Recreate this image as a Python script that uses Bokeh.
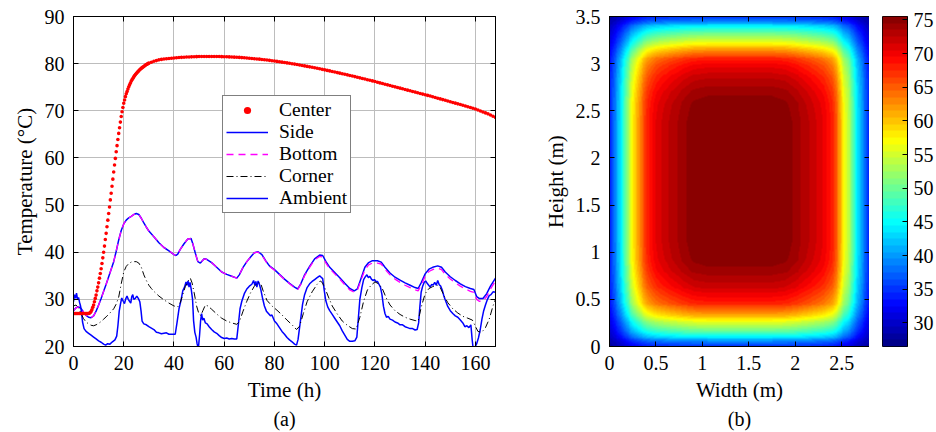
import numpy as np
from bokeh.plotting import figure
from bokeh.models import (LinearAxis, FixedTicker, Legend, LegendItem,
                          LinearColorMapper, Title, Range1d, CustomLabelingPolicy)
from bokeh.layouts import row
from bokeh.embed import file_html
from bokeh.resources import INLINE

FONT = "'Liberation Serif', 'Times New Roman', serif"

# ---------------- (a) temperature histories ----------------
time_ticks = [0, 20, 40, 60, 80, 100, 120, 140, 160]
temp_ticks = [20, 30, 40, 50, 60, 70, 80, 90]

# centre of the block: 20-min samples for the first 30 h, hourly afterwards
center_t = np.r_[np.arange(90) / 3.0, np.arange(30, 169)]
center_T = [
    27.0, 27.0, 27.0, 27.0, 27.0, 27.0, 27.0, 27.0, 27.0,
    27.0, 27.0, 27.0, 27.0, 27.0, 27.0, 27.0, 27.0, 27.0,
    27.0, 27.05, 27.2, 27.4, 27.8, 28.3, 28.8, 29.5, 30.2,
    30.9, 31.8, 32.6, 33.5, 34.5, 35.5, 36.5, 37.6, 38.8,
    40.0, 41.3, 42.7, 44.0, 45.4, 46.8, 48.2, 49.6, 51.1,
    52.5, 54.0, 55.5, 57.0, 58.5, 59.9, 61.3, 62.6, 63.9,
    65.2, 66.4, 67.6, 68.8, 69.8, 70.7, 71.6, 72.3, 73.0,
    73.6, 74.1, 74.6, 75.1, 75.5, 75.9, 76.3, 76.6, 76.9,
    77.2, 77.45, 77.7, 77.9, 78.1, 78.3, 78.5, 78.7, 78.85,
    79.0, 79.15, 79.3, 79.4, 79.55, 79.7, 79.8, 79.9, 80.0,
    80.1, 80.3, 80.5, 80.65, 80.8, 80.9, 81.0, 81.05, 81.1, 81.15,
    81.2, 81.25, 81.3, 81.33, 81.36, 81.4, 81.42, 81.44, 81.46, 81.48,
    81.5, 81.5, 81.5, 81.52, 81.52, 81.52, 81.52, 81.5, 81.5, 81.48,
    81.47, 81.45, 81.43, 81.41, 81.38, 81.35, 81.32, 81.28, 81.24, 81.2,
    81.15, 81.1, 81.05, 81.0, 80.95, 80.89, 80.83, 80.77, 80.7, 80.63,
    80.56, 80.48, 80.4, 80.32, 80.24, 80.16, 80.08, 79.99, 79.9, 79.81,
    79.72, 79.62, 79.52, 79.42, 79.32, 79.22, 79.12, 79.01, 78.9, 78.79,
    78.68, 78.57, 78.46, 78.34, 78.22, 78.1, 77.98, 77.86, 77.74, 77.62,
    77.5, 77.38, 77.25, 77.12, 76.99, 76.86, 76.73, 76.6, 76.47, 76.34,
    76.2, 76.06, 75.92, 75.78, 75.64, 75.5, 75.36, 75.22, 75.08, 74.94,
    74.8, 74.66, 74.52, 74.38, 74.24, 74.1, 73.96, 73.82, 73.68, 73.54,
    73.4, 73.26, 73.12, 72.97, 72.82, 72.67, 72.52, 72.37, 72.22, 72.07,
    71.92, 71.77, 71.62, 71.47, 71.32, 71.17, 71.02, 70.86, 70.7, 70.54,
    70.38, 70.15, 69.95, 69.75, 69.55, 69.35, 69.1, 68.85, 68.6,
]

side_t = [0, 1, 2, 3, 4, 5, 6, 7, 8, 9, 10, 11, 12, 13, 14, 15, 16, 17, 18, 19,
          20, 21, 22, 23, 24, 25, 26, 27, 28, 29, 30, 32, 34, 36, 38, 40, 40.8,
          41.5, 42.5, 44, 45.5, 46.8, 47.5, 48.5, 49.5, 50.5, 52, 53, 55, 57, 59,
          61, 63, 65, 66, 67.5, 69, 70.5, 72, 73.5, 75, 76.5, 78, 80, 82, 84, 86,
          88, 89.3, 90.5, 92, 94, 96, 98, 99.2, 100.5, 102, 104, 106, 108, 110,
          111.8, 113, 114.5, 116, 117.5, 119, 121, 122.5, 124, 126, 128, 130,
          132, 134, 136, 137.2, 138.5, 140, 141.5, 143, 145, 146.5, 148, 150,
          152, 154, 156, 158, 159.4, 160.5, 161.5, 163, 164.5, 166, 168]
side_T = [27.6, 28.2, 28.4, 28.1, 27.3, 26.6, 26.2, 26.1, 26.5, 27.5, 28.8, 30.2,
          31.7, 33.2, 34.8, 36.4, 38.0, 40.2, 42.6, 44.6, 46.0, 46.8, 47.3, 47.6,
          48.0, 48.2, 48.0, 47.2, 46.2, 45.3, 44.5, 43.3, 42.0, 41.0, 40.3, 39.5,
          39.3, 39.6, 40.6, 41.8, 42.8, 42.9, 41.8, 39.8, 38.0, 37.7, 38.6, 38.5,
          37.8, 36.8, 35.8, 35.3, 34.9, 34.5, 35.2, 36.8, 38.0, 39.0, 39.9, 40.1,
          39.5, 38.2, 37.1, 36.3, 35.3, 34.3, 33.4, 32.6, 32.2, 33.3, 35.2, 37.0,
          38.6, 39.4, 39.3, 38.0, 36.8, 35.7, 34.6, 33.4, 32.3, 31.8, 32.2, 34.5,
          36.8, 37.8, 38.2, 38.2, 37.9, 36.8, 35.6, 34.7, 34.1, 33.5, 33.0, 32.5,
          32.3, 33.6, 35.4, 36.4, 36.8, 37.1, 36.8, 35.8, 34.8, 34.0, 33.3, 32.7,
          32.3, 32.1, 30.6, 30.2, 30.2, 31.2, 32.8, 34.5]

bottom_t = side_t
bottom_T = [27.6, 28.2, 28.4, 28.1, 27.3, 26.6, 26.2, 26.1, 26.5, 27.5, 28.8, 30.2,
            31.7, 33.2, 34.8, 36.4, 38.0, 40.2, 42.6, 44.6, 46.0, 46.8, 47.3, 47.6,
            48.0, 48.2, 48.0, 47.2, 46.2, 45.3, 44.5, 43.3, 42.0, 41.0, 40.3, 39.5,
            39.3, 39.6, 40.6, 41.8, 42.8, 42.9, 41.8, 39.8, 38.0, 37.7, 38.6, 38.5,
            37.8, 36.8, 35.8, 35.3, 34.9, 34.5, 35.2, 36.8, 38.0, 39.0, 39.9, 40.0,
            39.4, 38.1, 37.0, 36.2, 35.2, 34.2, 33.3, 32.5, 32.1, 33.2, 35.0, 36.8,
            38.4, 39.1, 39.0, 37.7, 36.5, 35.4, 34.3, 33.1, 32.0, 31.5, 31.9, 34.1,
            36.3, 37.3, 37.7, 37.7, 37.5, 36.4, 35.2, 34.3, 33.6, 33.0, 32.5, 32.0,
            31.8, 33.1, 34.9, 35.9, 36.3, 36.6, 36.3, 35.3, 34.3, 33.5, 32.8, 32.2,
            31.7, 31.5, 30.0, 29.6, 29.6, 30.6, 32.2, 33.9]

corner_t = [0, 1, 2, 3, 4, 5, 6, 7, 8, 9, 10, 11, 12, 13, 14, 15, 16, 17, 18, 19,
            20, 21, 22, 23, 24, 25, 26, 27, 28, 29, 30, 31, 32, 34, 36, 38, 40,
            41.5, 42.5, 43.5, 44.5, 45.5, 46.5, 47.2, 48, 49, 50, 50.7, 51.5, 52.5,
            53.5, 55, 57, 59, 61, 63, 65, 66, 67.5, 69, 70.5, 72, 73.5, 74.5, 75.5,
            77, 79, 81, 83, 85, 87, 88.8, 90, 91.5, 93, 95, 97, 98.2, 99, 100,
            101.5, 103, 105, 107, 109, 111, 112.5, 114, 115.5, 117, 118.5, 120,
            121.5, 123, 124.5, 126, 128, 130, 132, 134, 136, 137.2, 138.5, 140,
            141.5, 143, 144.8, 146, 147.5, 149, 151, 153, 155, 157, 158.8, 159.8,
            161, 162.5, 164, 165.5, 167, 168]
corner_T = [28.6, 28.8, 28.2, 27.0, 25.9, 25.2, 24.8, 24.5, 24.4, 24.6, 24.9, 25.3,
            25.8, 26.3, 26.8, 27.4, 28.0, 29.0, 30.5, 33.3, 35.8, 37.0, 37.6, 37.9,
            38.0, 38.0, 37.7, 36.8, 35.2, 34.0, 33.0, 32.3, 31.7, 30.7, 29.9, 29.2,
            28.6, 28.4, 29.3, 31.0, 32.7, 33.8, 34.5, 33.5, 31.5, 28.6, 26.8, 26.6,
            27.6, 28.8, 28.6, 27.9, 26.9, 26.0, 25.4, 25.0, 24.7, 25.2, 27.5, 29.6,
            31.4, 32.8, 33.6, 33.4, 31.8, 29.8, 28.6, 27.7, 26.7, 25.6, 24.6, 23.6,
            24.3, 27.0, 29.5, 31.6, 33.2, 33.9, 33.6, 32.5, 30.5, 28.6, 26.9, 25.4,
            24.5, 23.8, 23.7, 26.2, 29.6, 32.0, 33.0, 33.7, 33.3, 32.2, 30.3, 28.8,
            27.6, 26.8, 26.2, 25.8, 25.5, 25.4, 28.5, 31.2, 32.3, 32.7, 33.0, 32.5,
            30.8, 29.3, 28.0, 27.1, 26.4, 26.0, 25.6, 24.5, 23.2, 23.0, 24.0, 25.8,
            28.6, 30.0]

ambient_t = [0, 0.4, 0.8, 1.2, 1.6, 2.0, 2.4, 2.8, 3.2, 3.6, 4.2, 5, 6, 7, 8, 9, 10,
             11, 12, 12.8, 13.6, 14.5, 15.5, 16.5, 17.2, 17.7, 18.2, 18.7, 19.2, 19.8,
             20.3, 20.8, 21.3, 21.8, 22.3, 22.8, 23.2, 23.6, 24.0, 24.6, 25.2, 25.8,
             26.4, 26.9, 27.3, 28, 29, 30, 31, 32, 33, 34, 35, 36, 37, 38, 39, 40.5,
             41.2, 42.0, 42.8, 43.5, 44.2, 44.8, 45.2, 45.6, 46.0, 46.4, 46.9, 47.4,
             47.8, 48.3, 48.8, 49.2, 49.7, 50.2, 50.6, 51.0, 51.4, 51.9, 52.5, 53.2,
             54, 55, 56, 57, 58, 59, 60, 61, 62, 63, 64, 65, 65.6, 66.3, 67, 68, 69,
             70, 71, 71.7, 72.2, 72.6, 73.0, 73.5, 74.0, 74.6, 75.2, 76.0, 76.8, 77.6,
             78.4, 79, 80, 81, 82, 83, 84, 85, 86, 87, 88, 88.8, 89.4, 90.0, 90.6,
             91.2, 92, 93, 94, 95, 96, 97, 98, 98.6, 99.2, 99.8, 100.4, 101.2, 102,
             103, 104, 105, 106, 107, 108, 109, 110, 111, 112, 112.8, 113.4, 114.0,
             114.8, 115.5, 116.2, 116.8, 117.4, 118.0, 118.6, 119.2, 119.8, 120.4,
             121.0, 121.6, 122.2, 122.8, 123.4, 124.0, 124.6, 125.3, 126, 127, 128,
             129, 130, 131, 132, 133, 134, 135, 136, 136.8, 137.4, 137.9, 138.4, 139.0,
             139.6, 140.2, 140.8, 141.4, 142.0, 142.6, 143.2, 143.8, 144.4, 145.0,
             145.6, 146.2, 146.8, 147.5, 148.2, 149, 150, 151, 152, 153, 154, 155,
             155.8, 156.6, 157.4, 158.2, 158.7, 159.1, 159.8, 160.5, 161.2, 161.9,
             162.6, 163.3, 164.0, 164.8, 165.5, 166.2, 167, 168]
ambient_T = [29.5, 31.0, 30.2, 31.3, 30.0, 30.4, 29.4, 28.6, 27.2, 25.2, 23.8, 23.2,
             22.8, 22.4, 22.0, 21.6, 21.2, 20.9, 20.5, 20.3, 20.6, 20.5, 21.0, 21.4,
             22.2, 24.5, 27.5, 29.0, 30.3, 29.6, 29.1, 30.1, 30.7, 30.0, 29.6, 29.2,
             30.6, 31.0, 30.0, 30.2, 30.7, 30.2, 29.5, 27.5, 25.4, 24.8, 24.6, 24.2,
             23.9, 23.6, 23.0, 22.9, 22.7, 22.8, 22.9, 22.6, 22.6, 22.6, 25.0, 28.0,
             29.8, 31.8, 32.6, 33.7, 33.0, 33.9, 32.6, 33.6, 32.0, 30.0, 25.5, 23.0,
             22.0, 20.6, 19.5, 22.5, 25.5, 27.0, 25.6, 26.0, 25.0, 24.8, 24.2, 23.6,
             23.1, 22.8, 22.3, 21.9, 21.7, 21.8, 21.6, 21.7, 21.6, 21.6, 24.5, 28.0,
             29.6, 31.2, 32.2, 32.8, 33.2, 34.0, 33.0, 33.8, 32.6, 33.9, 33.2, 32.0,
             30.4, 28.6, 27.5, 27.0, 26.5, 26.7, 25.4, 24.8, 24.0, 23.2, 22.6, 21.9,
             21.4, 21.0, 20.5, 20.3, 21.5, 24.0, 26.5, 29.0, 31.0, 32.5, 33.3, 33.8,
             34.2, 34.6, 35.0, 34.7, 34.4, 32.0, 29.8, 28.4, 27.6, 26.8, 26.0, 25.2,
             24.4, 23.3, 22.4, 21.5, 21.1, 21.1, 21.2, 22.0, 26.0, 30.0, 32.5, 34.2,
             34.8, 35.2, 34.6, 34.9, 34.3, 34.0, 34.2, 33.8, 33.8, 33.2, 32.6, 31.0,
             28.5, 27.0, 26.2, 26.4, 25.8, 25.6, 25.2, 25.0, 24.6, 24.6, 24.2, 24.0,
             23.8, 23.8, 23.5, 23.6, 25.0, 28.5, 31.5, 32.8, 33.6, 33.9, 33.4, 33.0,
             32.6, 33.2, 33.0, 33.6, 33.0, 34.0, 33.1, 32.8, 32.0, 30.6, 29.6, 28.5,
             27.6, 27.0, 26.5, 26.2, 25.6, 25.0, 24.2, 24.4, 24.0, 24.6, 21.5, 19.6,
             19.8, 20.6, 21.8, 23.5, 25.8, 27.6, 28.8, 30.0, 30.8, 31.0, 31.6, 31.5]

# ---------------- (b) cross-section temperature field ----------------
# temperature along the mid-height line (x in m) and along the mid-width line (y in m)
width_pos = [0.0, 0.03, 0.065, 0.12, 0.17, 0.22, 0.245, 0.30, 0.35, 0.41, 0.48, 0.57,
             0.67, 0.78, 0.90, 1.05, 1.40, 1.75, 1.90, 2.02, 2.12, 2.22, 2.32, 2.40,
             2.45, 2.49, 2.52, 2.565, 2.62, 2.67, 2.73, 2.77, 2.80]
width_temp = [34.0, 36.5, 39.3, 43.7, 49.5, 54.4, 57.1, 61.2, 64.6, 68.0, 70.1, 71.6,
              72.8, 74.0, 75.1, 75.5, 75.5, 75.5, 75.1, 74.0, 72.8, 71.6, 70.1, 68.0,
              64.6, 61.2, 57.1, 54.4, 49.5, 43.7, 39.3, 36.5, 34.0]
height_pos = [0.0, 0.04, 0.10, 0.16, 0.23, 0.28, 0.33, 0.39, 0.46, 0.55, 0.62, 0.70,
              0.79, 0.92, 1.10, 1.75, 2.40, 2.58, 2.72, 2.82, 2.90, 2.98, 3.05, 3.11,
              3.16, 3.21, 3.26, 3.33, 3.40, 3.46, 3.50]
height_temp = [35.0, 38.0, 44.0, 49.5, 54.4, 57.1, 61.2, 64.6, 68.0, 70.1, 71.6, 72.8,
               74.0, 75.1, 75.5, 75.5, 75.5, 75.1, 74.0, 72.8, 71.6, 70.1, 68.0, 64.6,
               61.2, 57.1, 54.4, 49.5, 44.0, 38.0, 35.0]
corner_temp = 26.6
peak_temp = 75.5
section_width = 2.8
section_height = 3.5

width_ticks = [0, 0.5, 1, 1.5, 2, 2.5]
width_labels = ["0", "0.5", "1", "1.5", "2", "2.5"]
height_ticks = [0, 0.5, 1, 1.5, 2, 2.5, 3, 3.5]
height_labels = ["0", "0.5", "1", "1.5", "2", "2.5", "3", "3.5"]
cbar_ticks = [30, 35, 40, 45, 50, 55, 60, 65, 70, 75]
cbar_low, cbar_high = 26.5, 75.5
n_levels = 49


def jet(n):
    cols = []
    for i in range(n):
        v = (i + 0.5) / n
        r = min(max(1.5 - abs(4 * v - 3), 0), 1)
        g = min(max(1.5 - abs(4 * v - 2), 0), 1)
        b = min(max(1.5 - abs(4 * v - 1), 0), 1)
        cols.append("#%02x%02x%02x" % (int(round(r * 255)), int(round(g * 255)), int(round(b * 255))))
    return cols


def style_axis(ax, ticks, show_labels=True, overrides=None):
    ax.ticker = FixedTicker(ticks=ticks)
    ax.major_tick_in = 5
    ax.major_tick_out = 0
    ax.minor_tick_line_color = None
    ax.major_tick_line_color = "black"
    ax.axis_line_color = "black"
    ax.major_label_text_font = FONT
    ax.major_label_text_color = "black"
    ax.axis_label_text_font = FONT
    ax.axis_label_text_font_size = "21px"
    ax.axis_label_text_font_style = "normal"
    ax.axis_label_text_color = "black"
    ax.axis_label_standoff = 5
    if show_labels:
        ax.major_label_text_font_size = "20px"
        ax.major_label_standoff = 9
    else:
        # tick marks only (mirrored frame ticks)
        ax.major_label_text_font_size = "0px"
        ax.major_label_standoff = 0
        ax.major_label_policy = CustomLabelingPolicy(code="return []")
    if overrides:
        ax.major_label_overrides = overrides


def caption(text):
    return Title(text=text, align="center", text_font=FONT, text_font_size="20px",
                 text_font_style="normal", text_color="black", standoff=2)


# ---- panel (a)
pa = figure(frame_width=422, frame_height=330, min_border_left=73, min_border_right=20,
            min_border_top=16, min_border_bottom=86,
            x_range=Range1d(0, 168), y_range=Range1d(20, 90),
            x_axis_label="Time (h)", y_axis_label="Temperature (°C)",
            output_backend="svg", toolbar_location=None)
pa.outline_line_color = "black"
pa.grid.grid_line_color = "#bdbdbd"
pa.grid.grid_line_width = 1
pa.xgrid.ticker = FixedTicker(ticks=time_ticks)
pa.ygrid.ticker = FixedTicker(ticks=temp_ticks)
style_axis(pa.xaxis[0], time_ticks)
style_axis(pa.yaxis[0], temp_ticks)
ra = LinearAxis()
style_axis(ra, temp_ticks, show_labels=False)
pa.add_layout(ra, "right")
ta = LinearAxis()
style_axis(ta, time_ticks, show_labels=False)
pa.add_layout(ta, "above")

r_amb = pa.line(ambient_t, ambient_T, line_color="#0000ff", line_width=1.5)
r_cor = pa.line(corner_t, corner_T, line_color="black", line_width=1, line_dash="7 3 1 3")
r_side = pa.line(side_t, side_T, line_color="#0000ff", line_width=1.5)
r_bot = pa.line(bottom_t, bottom_T, line_color="#ff00ff", line_width=1.3, line_dash="7 5")
r_cen = pa.scatter(center_t, center_T, marker="circle", size=3.6, fill_color="red",
                   line_color=None)

legend = Legend(items=[LegendItem(label="Center", renderers=[r_cen]),
                       LegendItem(label="Side", renderers=[r_side]),
                       LegendItem(label="Bottom", renderers=[r_bot]),
                       LegendItem(label="Corner", renderers=[r_cor]),
                       LegendItem(label="Ambient", renderers=[r_amb])],
                location=(149, 133))
legend.label_text_font = FONT
legend.label_text_font_size = "19.5px"
legend.label_text_color = "black"
legend.label_height = 18
legend.glyph_height = 18
legend.glyph_width = 42
legend.label_standoff = 11
legend.spacing = 0
legend.padding = 3
legend.margin = 0
legend.border_line_color = "black"
legend.border_line_width = 1.5
legend.background_fill_color = "white"
legend.background_fill_alpha = 1
pa.add_layout(legend)
pa.add_layout(caption("(a)"), "below")

# ---- panel (b)
xs = (np.arange(280) + 0.5) * section_width / 280
ys = (np.arange(350) + 0.5) * section_height / 350
tx = np.interp(xs, width_pos, width_temp)
ty = np.interp(ys, height_pos, height_temp)
field = corner_temp + np.outer(ty - corner_temp, tx - corner_temp) / (peak_temp - corner_temp)

mapper = LinearColorMapper(palette=jet(n_levels), low=cbar_low, high=cbar_high)

pb = figure(frame_width=260, frame_height=330, min_border_left=94, min_border_right=0,
            min_border_top=16, min_border_bottom=86,
            x_range=Range1d(0, section_width), y_range=Range1d(0, section_height),
            x_axis_label="Width (m)", y_axis_label="Height (m)",
            output_backend="svg", toolbar_location=None)
pb.outline_line_color = "black"
pb.grid.grid_line_color = None
pb.image(image=[field], x=0, y=0, dw=section_width, dh=section_height, color_mapper=mapper)
style_axis(pb.xaxis[0], width_ticks, overrides=dict(zip(width_ticks, width_labels)))
style_axis(pb.yaxis[0], height_ticks, overrides=dict(zip(height_ticks, height_labels)))
rb = LinearAxis()
style_axis(rb, height_ticks, show_labels=False)
pb.add_layout(rb, "right")
tb = LinearAxis()
style_axis(tb, width_ticks, show_labels=False)
pb.add_layout(tb, "above")
pb.add_layout(caption("(b)"), "below")

# ---- colour scale of panel (b)
step = (cbar_high - cbar_low) / n_levels
scale_levels = (cbar_low + (np.arange(n_levels) + 0.5) * step).reshape(n_levels, 1)
pc = figure(frame_width=25, frame_height=330, min_border_left=13, min_border_right=0,
            min_border_top=16, min_border_bottom=86,
            x_range=Range1d(0, 1), y_range=Range1d(cbar_low, cbar_high),
            y_axis_location="right", output_backend="svg", toolbar_location=None)
pc.outline_line_color = "black"
pc.grid.grid_line_color = None
pc.xaxis.visible = False
pc.image(image=[scale_levels], x=0, y=cbar_low, dw=1, dh=cbar_high - cbar_low,
         color_mapper=mapper)
style_axis(pc.yaxis[0], cbar_ticks)
pc.yaxis[0].major_label_standoff = 6

layout = row(pa, pb, pc)
open("out.html", "w").write(file_html(layout, INLINE))
